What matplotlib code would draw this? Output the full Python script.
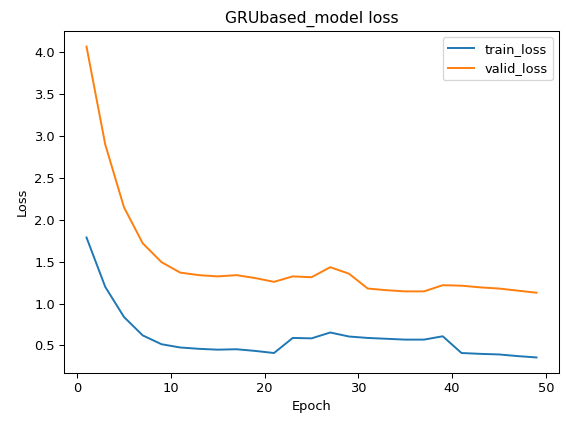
import matplotlib
matplotlib.use("Agg")
import matplotlib.pyplot as plt

# loss logged every other epoch
epochs = list(range(1, 50, 2))
train_loss = [1.79, 1.20, 0.84, 0.62, 0.515, 0.476, 0.46, 0.45, 0.455, 0.435,
              0.41, 0.59, 0.585, 0.655, 0.607, 0.59, 0.58, 0.57, 0.57, 0.61,
              0.41, 0.40, 0.393, 0.373, 0.357]
valid_loss = [4.07, 2.90, 2.15, 1.72, 1.495, 1.37, 1.34, 1.325, 1.34, 1.305,
              1.26, 1.325, 1.315, 1.435, 1.357, 1.18, 1.16, 1.146, 1.146, 1.22,
              1.214, 1.194, 1.18, 1.155, 1.13]

dpi = 93.5
fig = plt.figure(figsize=(561 / dpi, 424 / dpi), dpi=dpi)
ax = fig.add_axes([64 / 561, 1 - 373 / 424, 495 / 561, 342 / 424])

ax.plot(epochs, train_loss, label="train_loss")
ax.plot(epochs, valid_loss, label="valid_loss")
ax.set_title("GRUbased_model loss")
ax.set_xlabel("Epoch")
ax.set_ylabel("Loss")
ax.legend(loc="upper right")

fig.savefig("out.png", dpi=dpi)
